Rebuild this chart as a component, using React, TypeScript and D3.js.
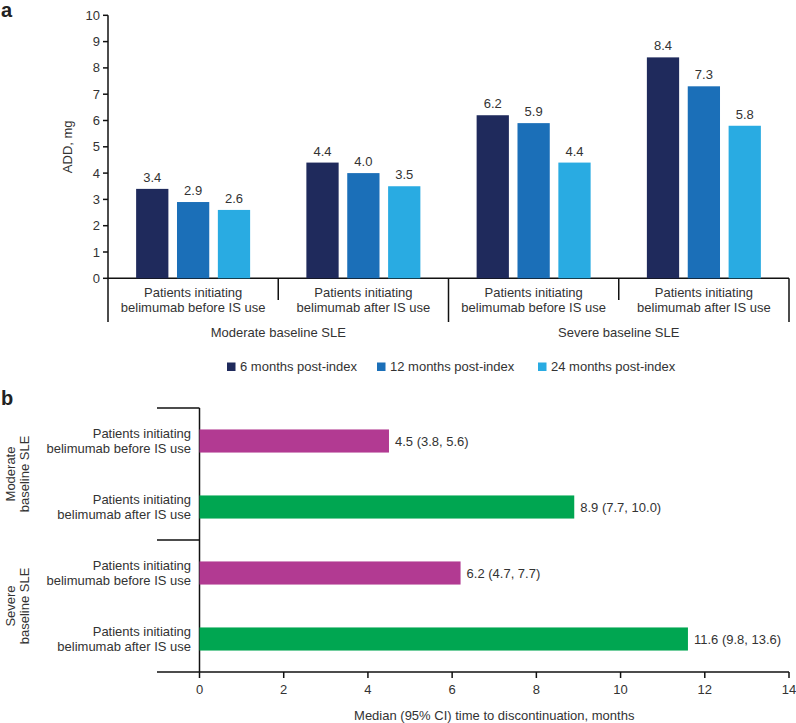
import React from "react";
import * as d3 from "d3";

const categoriesA = [
  ["Patients initiating", "belimumab before IS use"],
  ["Patients initiating", "belimumab after IS use"],
  ["Patients initiating", "belimumab before IS use"],
  ["Patients initiating", "belimumab after IS use"],
];
const groupsA = ["Moderate baseline SLE", "Severe baseline SLE"];
const seriesNames = ["6 months post-index", "12 months post-index", "24 months post-index"];
const seriesColors = ["#1f2a5c", "#1b6fb8", "#29abe2"];
const values6 = [3.4, 4.4, 6.2, 8.4];
const values12 = [2.9, 4.0, 5.9, 7.3];
const values24 = [2.6, 3.5, 4.4, 5.8];
const yTicksA = [0, 1, 2, 3, 4, 5, 6, 7, 8, 9, 10];

const categoriesB = [
  ["Patients initiating", "belimumab before IS use"],
  ["Patients initiating", "belimumab after IS use"],
  ["Patients initiating", "belimumab before IS use"],
  ["Patients initiating", "belimumab after IS use"],
];
const groupsB = [["Moderate", "baseline SLE"], ["Severe", "baseline SLE"]];
const mediansB = [4.5, 8.9, 6.2, 11.6];
const labelsB = ["4.5 (3.8, 5.6)", "8.9 (7.7, 10.0)", "6.2 (4.7, 7.7)", "11.6 (9.8, 13.6)"];
const colorsB = ["#b23a92", "#00a651", "#b23a92", "#00a651"];
const xTicksB = [0, 2, 4, 6, 8, 10, 12, 14];

const FONT = "'Liberation Sans', Arial, sans-serif";
const TXT = "#333";

export default function App() {
  const series = [values6, values12, values24];
  // Panel a
  const yA = d3.scaleLinear().domain([0, 10]).range([278.3, 15.3]);
  const xA = d3.scaleBand<number>().domain([0, 1, 2, 3]).range([108, 789]).padding(0);
  const inner = d3.scaleBand<number>().domain([0, 1, 2]).range([0, 114]).paddingInner(8 / 38).paddingOuter(0);
  const groupSpan = 2 * inner.step() + inner.bandwidth();
  const bracketBottomLong = 322;
  const bracketBottomShort = 300;

  // Panel b
  const xB = d3.scaleLinear().domain([0, 14]).range([199.5, 789]);
  const yB = d3.scaleBand<number>().domain([0, 1, 2, 3]).range([408, 672]).paddingInner(0.65).paddingOuter(0.325);
  const axisYB = 672;

  const legendX = [227, 377, 538];

  return (
    <svg width={796} height={723} style={{ position: "absolute", left: 0, top: 0, background: "#fff" }} fontFamily={FONT}>
      <rect x={0} y={0} width={796} height={723} fill="#fff" />
      {/* Panel labels */}
      <text x={1} y={17} fontSize={20} fontWeight="bold" fill="#222">a</text>
      <text x={1} y={405} fontSize={20} fontWeight="bold" fill="#222">b</text>

      {/* Panel a y axis */}
      <line x1={108} x2={108} y1={yA(10)} y2={bracketBottomLong} stroke="#111" strokeWidth={1.5} />
      {yTicksA.map((t) => (
        <g key={t}>
          <line x1={103} x2={108} y1={yA(t)} y2={yA(t)} stroke="#111" strokeWidth={1.5} />
          <text x={100} y={yA(t)} dy="0.35em" textAnchor="end" fontSize={13} fill={TXT}>{t}</text>
        </g>
      ))}
      <text transform={`translate(67,${(yA(0) + yA(10)) / 2}) rotate(-90)`} textAnchor="middle" dy="0.35em" fontSize={13} fill={TXT}>ADD, mg</text>
      <line x1={108} x2={789} y1={yA(0)} y2={yA(0)} stroke="#111" strokeWidth={1.5} />
      {/* brackets */}
      {[0, 1, 2, 3].map((i) => {
        const xr = (xA(i) as number) + xA.bandwidth();
        const long = i % 2 === 1;
        return <line key={i} x1={xr} x2={xr} y1={yA(0)} y2={long ? bracketBottomLong : bracketBottomShort} stroke="#111" strokeWidth={1.5} />;
      })}
      {/* bars */}
      {categoriesA.map((cat, ci) => {
        const cx = (xA(ci) as number) + xA.bandwidth() / 2;
        const x0 = cx - groupSpan / 2;
        return (
          <g key={ci}>
            {series.map((vals, si) => {
              const v = vals[ci];
              const bx = x0 + (inner(si) as number);
              return (
                <g key={si}>
                  <rect x={bx} y={yA(v)} width={inner.bandwidth()} height={yA(0) - yA(v)} fill={seriesColors[si]} />
                  <text x={bx + inner.bandwidth() / 2} y={yA(v) - 7} textAnchor="middle" fontSize={13} fill={TXT}>{v.toFixed(1)}</text>
                </g>
              );
            })}
            <text x={cx} y={292.7} dy="0.35em" textAnchor="middle" fontSize={13} fill={TXT}>{cat[0]}</text>
            <text x={cx} y={307.5} dy="0.35em" textAnchor="middle" fontSize={13} fill={TXT}>{cat[1]}</text>
          </g>
        );
      })}
      {groupsA.map((g, gi) => {
        const cx = ((xA(gi * 2) as number) + (xA(gi * 2 + 1) as number) + xA.bandwidth()) / 2;
        return <text key={gi} x={cx} y={332.5} dy="0.35em" textAnchor="middle" fontSize={13} fill={TXT}>{g}</text>;
      })}
      {/* legend */}
      {seriesNames.map((n, i) => (
        <g key={i}>
          <rect x={legendX[i]} y={362.5} width={8.5} height={8.5} fill={seriesColors[i]} />
          <text x={legendX[i] + 13} y={366.8} dy="0.35em" fontSize={13} fill={TXT}>{n}</text>
        </g>
      ))}

      {/* Panel b */}
      <line x1={xB(0)} x2={xB(0)} y1={408} y2={axisYB} stroke="#111" strokeWidth={1.5} />
      <line x1={157} x2={xB(0)} y1={408} y2={408} stroke="#111" strokeWidth={1.5} />
      <line x1={157} x2={xB(0)} y1={540} y2={540} stroke="#111" strokeWidth={1.5} />
      <line x1={157} x2={xB(14)} y1={axisYB} y2={axisYB} stroke="#111" strokeWidth={1.5} />
      {xTicksB.map((t) => (
        <g key={t}>
          <line x1={xB(t)} x2={xB(t)} y1={axisYB} y2={axisYB + 6} stroke="#111" strokeWidth={1.5} />
          <text x={xB(t)} y={689} dy="0.35em" textAnchor="middle" fontSize={13} fill={TXT}>{t}</text>
        </g>
      ))}
      <text x={(xB(0) + xB(14)) / 2} y={715} dy="0.35em" textAnchor="middle" fontSize={13} fill={TXT}>Median (95% CI) time to discontinuation, months</text>
      {categoriesB.map((cat, i) => {
        const y0 = yB(i) as number;
        const cy = y0 + yB.bandwidth() / 2;
        return (
          <g key={i}>
            <rect x={xB(0)} y={y0} width={xB(mediansB[i]) - xB(0)} height={yB.bandwidth()} fill={colorsB[i]} />
            <text x={xB(mediansB[i]) + 6} y={cy} dy="0.35em" fontSize={13} fill={TXT}>{labelsB[i]}</text>
            <text x={191} y={cy - 7.8} dy="0.35em" textAnchor="end" fontSize={13} fill={TXT}>{cat[0]}</text>
            <text x={191} y={cy + 7.8} dy="0.35em" textAnchor="end" fontSize={13} fill={TXT}>{cat[1]}</text>
          </g>
        );
      })}
      {groupsB.map((g, gi) => {
        const cy = ((yB(gi * 2) as number) + (yB(gi * 2 + 1) as number) + yB.bandwidth()) / 2;
        return (
          <text key={gi} transform={`translate(10,${cy}) rotate(-90)`} textAnchor="middle" fontSize={13} fill={TXT}>
            <tspan x={0} dy="0.35em">{g[0]}</tspan>
            <tspan x={0} dy="14.5">{g[1]}</tspan>
          </text>
        );
      })}
    </svg>
  );
}
